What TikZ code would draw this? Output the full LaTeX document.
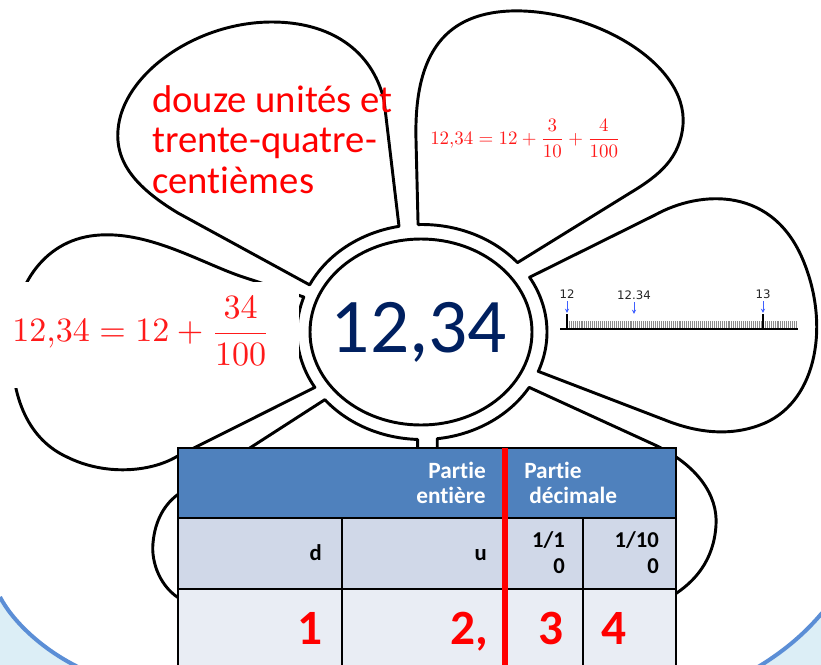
\documentclass[tikz,border=0pt]{standalone}
\usepackage[no-math]{fontspec}
\usepackage{graphicx}
\setmainfont{Carlito}[Ligatures=NoCommon]
\newfontfamily\nlfont{DejaVu Sans}
\usetikzlibrary{arrows.meta,calc}
\definecolor{hdrblue}{HTML}{4F81BD}
\definecolor{rowtwo}{HTML}{D0D8E8}
\definecolor{rowthree}{HTML}{E9EDF4}
\definecolor{navy}{HTML}{002060}
\definecolor{bgblue}{HTML}{DCEEF6}
\definecolor{rimblue}{HTML}{5B8ED6}
\definecolor{arrowblue}{HTML}{3F5FFF}
\definecolor{eqred}{HTML}{FF1A1A}
\begin{document}
\begin{tikzpicture}[x=0.75pt,y=-0.75pt,
  outline/.style={draw=black,fill=white,line width=2.2pt,line join=round},
  ringarc/.style={x radius=93.75pt,y radius=80.625pt},
  tblline/.style={draw=black,line width=2pt},
  redbar/.style={draw=red,line width=4.6pt},
  hdrtext/.style={font=\bfseries\fontsize{17.5}{19}\selectfont,text=white,inner sep=0},
  subtext/.style={font=\bfseries\fontsize{17}{19}\selectfont,text=black,inner sep=0},
  digtext/.style={font=\bfseries\fontsize{37}{40}\selectfont,text=red,inner sep=0},
  wordtext/.style={font=\fontsize{29}{30}\selectfont,text=red,inner sep=0,anchor=base west},
  nltext/.style={font=\nlfont\fontsize{8.8}{10}\selectfont,text=black!85,inner sep=0},
  nlarrow/.style={draw=arrowblue,line width=0.6pt,-{Stealth[length=3.2pt,width=3pt]}}]
\useasboundingbox (0,0) rectangle (821,664);
\clip (0,0) rectangle (821,664);
% background
\fill[white] (0,0) rectangle (821,664);
\fill[bgblue] (0,597) .. controls (12,620) and (40,648) .. (78,667) -- (-2,667) -- cycle;
\draw[rimblue,line width=3pt] (0,597) .. controls (12,620) and (40,648) .. (78,667);
\fill[bgblue] (822,613) .. controls (806,632) and (786,650) .. (758,667) -- (823,667) -- cycle;
\draw[rimblue,line width=3pt] (822,613) .. controls (806,632) and (786,650) .. (758,667);
% flower: junctions on the outer ring
\coordinate (C) at (422,332);
\path (C) ++(-91.8:125 and 107.5) coordinate (j1);
\path (C) ++(-40.2:125 and 107.5) coordinate (j2);
\path (C) ++(-30.6:125 and 107.5) coordinate (j3);
\path (C) ++(21.5:125 and 107.5) coordinate (j4);
\path (C) ++(31:125 and 107.5) coordinate (j5);
\path (C) ++(83:125 and 107.5) coordinate (j6);
\path (C) ++(92:125 and 107.5) coordinate (j7);
\path (C) ++(141:125 and 107.5) coordinate (j8);
\path (C) ++(149:125 and 107.5) coordinate (j9);
\path (C) ++(199:125 and 107.5) coordinate (j10);
\path (C) ++(206:125 and 107.5) coordinate (j11);
\path (C) ++(259.4:125 and 107.5) coordinate (j12);
% top-right petal
\draw[outline] (j1)
  -- (416,140) .. controls (414,60) and (440,14) .. (510,11)
  .. controls (590,8) and (688,62) .. (683,125)
  .. controls (680,158) and (660,175) .. (630,193) -- (j2)
  arc[start angle=40.2,end angle=91.8,ringarc] -- cycle;
% right petal
\draw[outline] (j3)
  -- (655,215) .. controls (700,190) and (775,185) .. (805,265)
  .. controls (830,330) and (815,405) .. (760,425)
  .. controls (728,437) and (695,432) .. (665,420) -- (j4)
  arc[start angle=-21.5,end angle=30.6,ringarc] -- cycle;
% bottom-right petal
\draw[outline] (j5)
  -- (655,445) .. controls (697,465) and (718,495) .. (716,525)
  .. controls (714,560) and (695,582) .. (672,596) -- (600,610) -- (437.2,470) -- (j6)
  arc[start angle=-83,end angle=-31,ringarc] -- cycle;
% bottom-left petal
\draw[outline] (j7)
  -- (417.6,470) -- (300,610) -- (182,600)
  .. controls (160,588) and (151,562) .. (153,543)
  .. controls (155,520) and (165,503) .. (180,493) -- (j8)
  arc[start angle=-141,end angle=-92,ringarc] -- cycle;
% left petal
\draw[outline] (j9)
  -- (176,457) .. controls (150,472) and (105,476) .. (67,457)
  .. controls (30,440) and (10,400) .. (12,340)
  .. controls (14,285) and (45,238) .. (100,235)
  .. controls (150,232) and (200,262) .. (240,276) -- (j10)
  arc[start angle=-199,end angle=-149,ringarc] -- cycle;
% top-left petal
\draw[outline] (j11)
  -- (178,213) .. controls (140,190) and (115,165) .. (118,130)
  .. controls (122,75) and (195,22) .. (272,22)
  .. controls (330,22) and (372,50) .. (384,100) -- (j12)
  arc[start angle=-259.4,end angle=-206,ringarc] -- cycle;
% heart of the flower
\draw[outline] (421,332) ellipse [x radius=111,y radius=93];
% white patch behind left equation
\fill[white] (0,282) rectangle (299,388);
% texts
\node[wordtext] (w1) at (152,112) {douze unités et};
\node[wordtext] (w2) at (152,152) {trente-quatre-};
\node[wordtext] (w3) at (152,193) {centièmes};
\node[anchor=west,inner sep=0,text=eqred] (eqR) at (430,138.5)
  {\resizebox{142.5pt}{!}{$\displaystyle 12{,}34=12+\frac{3}{10}+\frac{4}{100}$}};
\node[anchor=west,inner sep=0,text=eqred] (eqL) at (12,331)
  {\resizebox{193.5pt}{!}{$\displaystyle 12{,}34=12+\frac{34}{100}$}};
\node[font=\fontsize{58}{60}\selectfont,text=navy,anchor=base,inner sep=0] (num) at (419,352) {12,34};
% number line
\foreach \i in {1,...,117} {\draw[black!45,line width=0.3pt] ({567+1.96*\i},321) -- ({567+1.96*\i},329);}
\draw[black,line width=1.5pt] (560,329) -- (798,329);
\draw[black,line width=1.2pt] (567,314) -- (567,329);
\draw[black,line width=1.2pt] (763,314) -- (763,329);
\node[nltext] (l12) at (567,294) {12};
\node[nltext] (l1234) at (634,295) {12.34};
\node[nltext] (l13) at (763,294) {13};
\coordinate (a1s) at (567,301); \coordinate (a1e) at (567,313);
\coordinate (a2s) at (634,302); \coordinate (a2e) at (634,314);
\coordinate (a3s) at (763,301); \coordinate (a3e) at (763,313);
\draw[nlarrow] (a1s) -- (a1e);
\draw[nlarrow] (a2s) -- (a2e);
\draw[nlarrow] (a3s) -- (a3e);
% table
\fill[hdrblue] (178,448) rectangle (676,518);
\fill[rowtwo] (178,518) rectangle (676,589);
\fill[rowthree] (178,589) rectangle (676,690);
\draw[tblline] (178,690) -- (178,448) -- (676,448) -- (676,690);
\draw[tblline] (178,518) -- (676,518);
\draw[tblline] (178,589) -- (676,589);
\draw[tblline] (342,518) -- (342,690);
\draw[tblline] (583,518) -- (583,690);
\draw[redbar] (505,448) -- (505,690);
\node[hdrtext,anchor=base east] (h1) at (486,478) {Partie};
\node[hdrtext,anchor=base east] (h2) at (486,503) {entière};
\node[hdrtext,anchor=base west] (h3) at (524,478) {Partie};
\node[hdrtext,anchor=base west] (h4) at (529,503) {décimale};
\node[subtext,anchor=base east] (sd) at (322,560) {d};
\node[subtext,anchor=base east] (su) at (487,560) {u};
\node[subtext,anchor=base east] (s1a) at (565,547) {1/1};
\node[subtext,anchor=base east] (s1b) at (565,573) {0};
\node[subtext,anchor=base east] (s2a) at (659,547) {1/10};
\node[subtext,anchor=base east] (s2b) at (659,573) {0};
\node[digtext,anchor=base east] (d1) at (323,644) {1};
\node[digtext,anchor=base east] (d2) at (488,644) {2,};
\node[digtext,anchor=base west] (d3) at (538,644) {3};
\node[digtext,anchor=base west] (d4) at (601,644) {4};
\end{tikzpicture}
\end{document}
